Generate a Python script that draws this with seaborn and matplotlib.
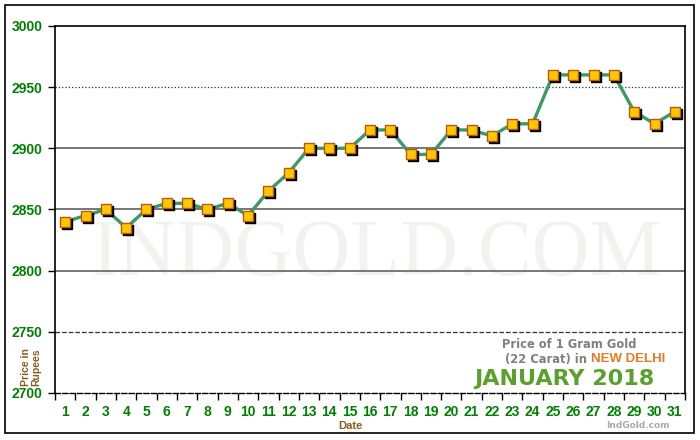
import matplotlib
matplotlib.use("Agg")
import matplotlib.pyplot as plt
import matplotlib.transforms as mtransforms
from matplotlib.patches import Rectangle
import seaborn as sns
import pandas as pd

# Gold price, 22 carat, New Delhi, January 2018
days = list(range(1, 32))
price = [2840, 2845, 2850, 2835, 2850, 2855, 2855, 2850, 2855, 2845,
         2865, 2880, 2900, 2900, 2900, 2915, 2915, 2895, 2895, 2915,
         2915, 2910, 2920, 2920, 2960, 2960, 2960, 2960, 2930, 2920, 2930]
y_ticks = [2700, 2750, 2800, 2850, 2900, 2950, 3000]

df = pd.DataFrame({"day": days, "price": price})

sns.set_theme(style="white")
plt.rcParams["font.family"] = ["Liberation Sans", "DejaVu Sans"]

fig = plt.figure(figsize=(7, 4.4), dpi=100)
ax = fig.add_axes([0.0786, 0.107, 0.9, 0.834])

# outer frame
fig.patches.append(Rectangle((5 / 700, 7 / 440), 689 / 700, 428 / 440, transform=fig.transFigure,
                             fill=False, edgecolor="black", linewidth=1.2))

# watermark
ax.text(16.3, 2812, "INDGOLD.COM", fontsize=58, family="Liberation Serif", color="#f0f3f0",
        ha="center", va="center", zorder=0)

# grid lines
for yv, ls in [(2950, ":"), (2900, "-"), (2850, "-"), (2800, "-"), (2750, "--")]:
    ax.axhline(yv, color="#777777" if ls == "-" else "#333333", linewidth=1.4 if ls == "-" else 0.9,
               linestyle=ls, zorder=1)

sns.lineplot(data=df, x="day", y="price", ax=ax, color="#3a9a68", linewidth=2.4, zorder=3)

shadow = ax.transData + mtransforms.ScaledTranslation(2 / 100, -2 / 100, fig.dpi_scale_trans)
ax.scatter(df["day"], df["price"], marker="s", s=50, color="black", transform=shadow, zorder=4)
ax.scatter(df["day"], df["price"], marker="s", s=50, color="#ffc800", edgecolor="#b85a10",
           linewidth=1.0, zorder=5)

ax.set_xlim(0.5, 31.5)
ax.set_ylim(2700, 3000)
ax.set_xticks(days)
ax.set_xticklabels([str(d) for d in days])
ax.set_xticks([d + 0.5 for d in range(0, 32)], minor=True)
ax.set_yticks(y_ticks)
ax.tick_params(axis="x", which="major", length=0, pad=9, labelsize=10, labelcolor="#008000")
ax.tick_params(axis="x", which="minor", length=5, width=1, color="black", direction="out", bottom=True)
ax.tick_params(axis="y", length=5, width=1, color="black", direction="out", left=True, pad=4,
               labelsize=10, labelcolor="#008000")
for lab in ax.get_xticklabels() + ax.get_yticklabels():
    lab.set_fontweight("bold")

for s in ["left", "right", "top"]:
    ax.spines[s].set_color("black")
    ax.spines[s].set_linewidth(1.2)
ax.spines["bottom"].set_color("black")
ax.spines["bottom"].set_linestyle("--")
ax.spines["bottom"].set_linewidth(1.0)

ax.set_xlabel("")
ax.set_ylabel("")

fig.text(350 / 700, 1 - 426 / 440, "Date", color="#8b5a1e", fontsize=8, fontweight="bold",
         ha="center", va="center")
fig.text(31 / 700, 1 - 367 / 440, "Price in\nRupees", color="#8b5a1e", fontsize=7.5, fontweight="bold",
         rotation=90, ha="center", va="center", linespacing=1.0)

# caption box
fig.text(569 / 700, 1 - 345 / 440, "Price of 1 Gram Gold", color="#808080", fontsize=8.3,
         family="DejaVu Sans", fontweight="bold", ha="center", va="center")
fig.text(591 / 700, 1 - 359 / 440, "(22 Carat) in ", color="#808080", fontsize=8.3,
         family="DejaVu Sans", fontweight="bold", ha="right", va="center")
fig.text(591 / 700, 1 - 359 / 440, "NEW DELHI", color="#f07820", fontsize=9.5,
         fontweight="bold", ha="left", va="center")
fig.text(564 / 700, 1 - 379 / 440, "JANUARY 2018", color="#5aa02c", fontsize=16,
         family="DejaVu Sans", fontweight="bold", ha="center", va="center")
fig.text(638 / 700, 1 - 425 / 440, "IndGold.com", color="#aaaaaa", fontsize=6.5,
         family="DejaVu Sans", fontweight="bold", ha="center", va="center")

fig.savefig("out.png", dpi=100, facecolor="white")
